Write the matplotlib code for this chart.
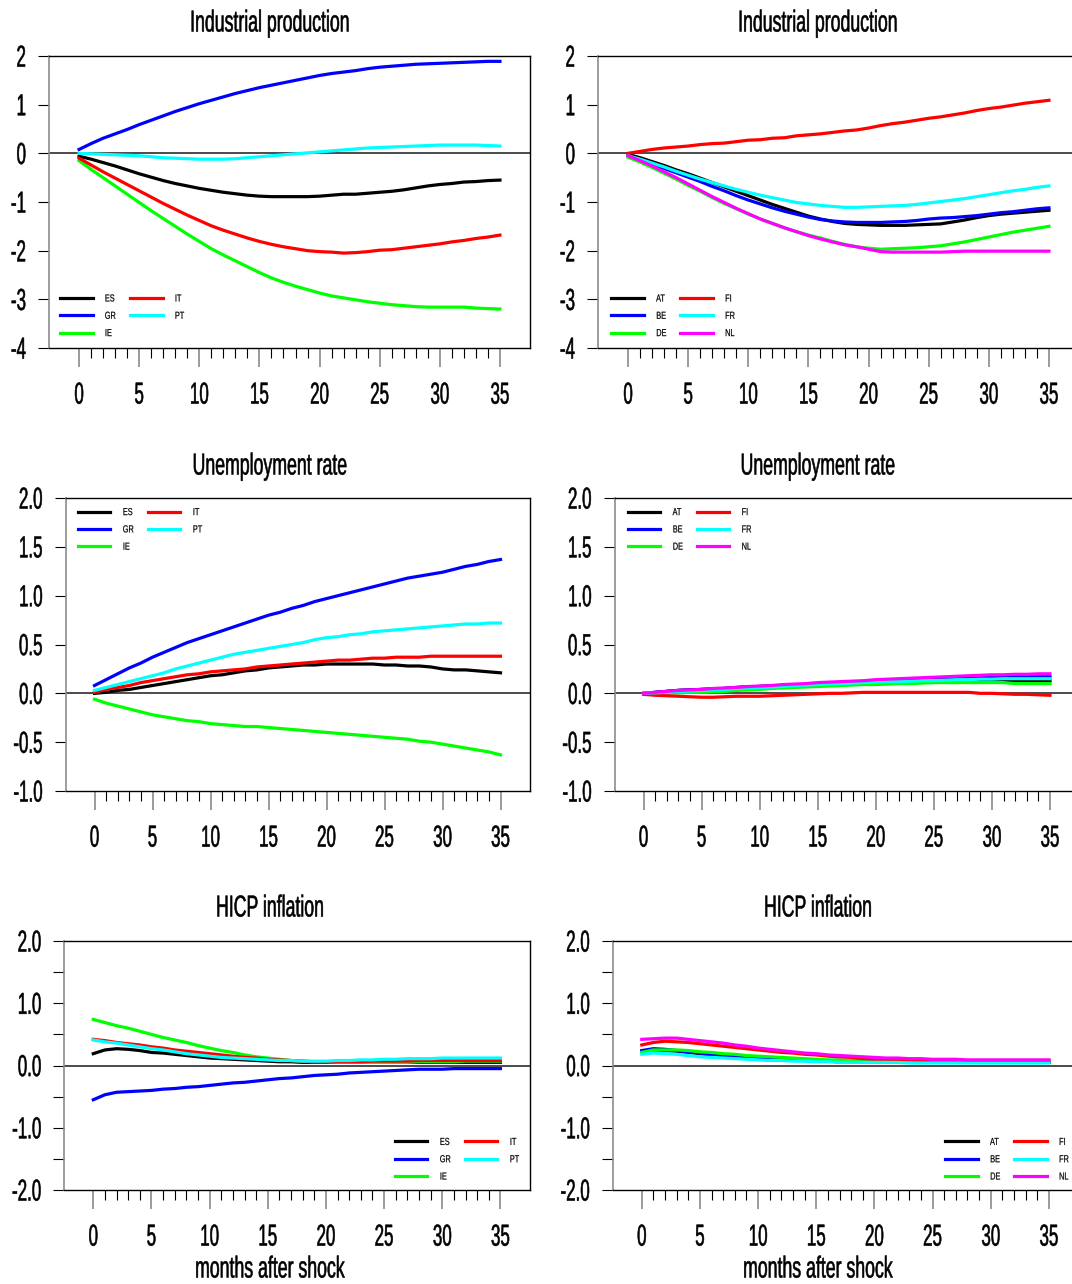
import numpy as np
import matplotlib
matplotlib.use("Agg")
import matplotlib.pyplot as plt
from matplotlib.patheffects import AbstractPathEffect
from matplotlib.transforms import Affine2D

plt.rcParams['font.family'] = ['Liberation Sans', 'DejaVu Sans']
plt.rcParams['axes.unicode_minus'] = False

months = np.arange(36)

# impulse responses, periphery (left column) and core (right column)
ip_es = [-0.06, -0.12, -0.19, -0.26, -0.34, -0.42, -0.49, -0.56, -0.62, -0.67, -0.72, -0.76, -0.80, -0.83, -0.86, -0.88, -0.89, -0.89,
         -0.89, -0.89, -0.88, -0.86, -0.84, -0.84, -0.82, -0.80, -0.78, -0.75, -0.71, -0.67, -0.64, -0.62, -0.59, -0.58, -0.56, -0.55]
ip_gr = [0.08, 0.20, 0.31, 0.40, 0.49, 0.59, 0.68, 0.77, 0.86, 0.94, 1.02, 1.09, 1.16, 1.23, 1.29, 1.35, 1.40, 1.45,
         1.50, 1.55, 1.60, 1.64, 1.67, 1.70, 1.74, 1.77, 1.79, 1.81, 1.83, 1.84, 1.85, 1.86, 1.87, 1.88, 1.89, 1.89]
ip_ie = [-0.15, -0.33, -0.50, -0.67, -0.84, -1.01, -1.18, -1.34, -1.50, -1.66, -1.81, -1.96, -2.09, -2.21, -2.33, -2.45, -2.56, -2.65,
         -2.73, -2.80, -2.87, -2.93, -2.97, -3.01, -3.05, -3.08, -3.11, -3.13, -3.15, -3.16, -3.16, -3.16, -3.16, -3.18, -3.19, -3.20]
ip_it = [-0.10, -0.24, -0.38, -0.51, -0.64, -0.77, -0.90, -1.03, -1.15, -1.27, -1.38, -1.49, -1.58, -1.66, -1.74, -1.81, -1.87, -1.92,
         -1.96, -2.00, -2.02, -2.03, -2.05, -2.04, -2.02, -1.99, -1.98, -1.95, -1.92, -1.89, -1.86, -1.82, -1.79, -1.75, -1.72, -1.68]
ip_pt = [0.00, -0.01, -0.02, -0.03, -0.04, -0.05, -0.07, -0.09, -0.10, -0.11, -0.12, -0.12, -0.12, -0.11, -0.09, -0.07, -0.05, -0.03,
         -0.01, 0.01, 0.03, 0.05, 0.07, 0.09, 0.11, 0.12, 0.13, 0.14, 0.15, 0.16, 0.17, 0.17, 0.17, 0.17, 0.16, 0.15]

ip_at = [-0.02, -0.09, -0.17, -0.25, -0.34, -0.42, -0.51, -0.60, -0.69, -0.78, -0.87, -0.96, -1.05, -1.13, -1.21, -1.29, -1.35, -1.40,
         -1.44, -1.46, -1.47, -1.48, -1.48, -1.48, -1.47, -1.46, -1.45, -1.41, -1.37, -1.32, -1.28, -1.25, -1.23, -1.21, -1.19, -1.17]
ip_be = [-0.05, -0.13, -0.22, -0.31, -0.40, -0.49, -0.58, -0.68, -0.77, -0.87, -0.96, -1.04, -1.12, -1.19, -1.25, -1.31, -1.36, -1.39,
         -1.41, -1.42, -1.42, -1.42, -1.41, -1.40, -1.38, -1.35, -1.33, -1.32, -1.30, -1.28, -1.25, -1.22, -1.20, -1.17, -1.14, -1.12]
ip_de = [-0.08, -0.18, -0.29, -0.41, -0.53, -0.66, -0.78, -0.91, -1.03, -1.14, -1.25, -1.35, -1.44, -1.53, -1.61, -1.68, -1.74, -1.81,
         -1.87, -1.92, -1.95, -1.97, -1.96, -1.95, -1.94, -1.92, -1.90, -1.86, -1.82, -1.77, -1.72, -1.67, -1.62, -1.58, -1.54, -1.50]
ip_fi = [0.00, 0.04, 0.08, 0.11, 0.13, 0.15, 0.18, 0.20, 0.21, 0.24, 0.27, 0.28, 0.31, 0.32, 0.36, 0.38, 0.40, 0.43,
         0.46, 0.48, 0.52, 0.57, 0.61, 0.64, 0.68, 0.72, 0.75, 0.79, 0.83, 0.88, 0.92, 0.95, 0.99, 1.03, 1.06, 1.09]
ip_fr = [-0.05, -0.12, -0.20, -0.28, -0.37, -0.45, -0.53, -0.60, -0.67, -0.74, -0.80, -0.86, -0.91, -0.96, -1.01, -1.04, -1.07, -1.09,
         -1.11, -1.11, -1.10, -1.09, -1.08, -1.07, -1.05, -1.02, -0.99, -0.96, -0.93, -0.89, -0.85, -0.81, -0.77, -0.74, -0.70, -0.67]
ip_nl = [-0.05, -0.15, -0.26, -0.38, -0.50, -0.63, -0.76, -0.89, -1.01, -1.13, -1.24, -1.35, -1.44, -1.53, -1.61, -1.69, -1.76, -1.82,
         -1.88, -1.92, -1.97, -2.02, -2.03, -2.03, -2.03, -2.03, -2.03, -2.02, -2.01, -2.01, -2.01, -2.01, -2.01, -2.01, -2.01, -2.01]

ur_es = [0.00, 0.01, 0.03, 0.04, 0.06, 0.08, 0.10, 0.12, 0.14, 0.16, 0.18, 0.19, 0.21, 0.23, 0.24, 0.26, 0.27, 0.28,
         0.29, 0.29, 0.30, 0.30, 0.30, 0.30, 0.30, 0.29, 0.29, 0.28, 0.28, 0.27, 0.25, 0.24, 0.24, 0.23, 0.22, 0.21]
ur_gr = [0.08, 0.14, 0.20, 0.26, 0.31, 0.37, 0.42, 0.47, 0.52, 0.56, 0.60, 0.64, 0.68, 0.72, 0.76, 0.80, 0.83, 0.87,
         0.90, 0.94, 0.97, 1.00, 1.03, 1.06, 1.09, 1.12, 1.15, 1.18, 1.20, 1.22, 1.24, 1.27, 1.30, 1.32, 1.35, 1.37]
ur_ie = [-0.06, -0.10, -0.13, -0.16, -0.19, -0.22, -0.24, -0.26, -0.28, -0.29, -0.31, -0.32, -0.33, -0.34, -0.34, -0.35, -0.36, -0.37,
         -0.38, -0.39, -0.40, -0.41, -0.42, -0.43, -0.44, -0.45, -0.46, -0.47, -0.49, -0.50, -0.52, -0.54, -0.56, -0.58, -0.60, -0.63]
ur_it = [0.01, 0.04, 0.06, 0.08, 0.11, 0.13, 0.15, 0.17, 0.19, 0.20, 0.22, 0.23, 0.24, 0.25, 0.27, 0.28, 0.29, 0.30,
         0.31, 0.32, 0.33, 0.34, 0.34, 0.35, 0.36, 0.36, 0.37, 0.37, 0.37, 0.38, 0.38, 0.38, 0.38, 0.38, 0.38, 0.38]
ur_pt = [0.03, 0.06, 0.09, 0.12, 0.15, 0.18, 0.21, 0.25, 0.28, 0.31, 0.34, 0.37, 0.40, 0.42, 0.44, 0.46, 0.48, 0.50,
         0.52, 0.55, 0.57, 0.58, 0.60, 0.61, 0.63, 0.64, 0.65, 0.66, 0.67, 0.68, 0.69, 0.70, 0.71, 0.71, 0.72, 0.72]

ur_at = [0.00, 0.01, 0.02, 0.03, 0.035, 0.04, 0.045, 0.05, 0.06, 0.065, 0.07, 0.075, 0.08, 0.085, 0.09, 0.095, 0.10, 0.105,
         0.11, 0.115, 0.12, 0.12, 0.125, 0.125, 0.13, 0.13, 0.13, 0.13, 0.13, 0.13, 0.13, 0.13, 0.13, 0.13, 0.13, 0.13]
ur_be = [0.00, 0.01, 0.02, 0.03, 0.035, 0.04, 0.045, 0.05, 0.06, 0.065, 0.07, 0.075, 0.08, 0.085, 0.09, 0.10, 0.105, 0.11,
         0.115, 0.12, 0.125, 0.13, 0.135, 0.14, 0.145, 0.15, 0.15, 0.155, 0.16, 0.16, 0.165, 0.165, 0.17, 0.17, 0.17, 0.17]
ur_de = [0.00, 0.00, 0.00, 0.005, 0.01, 0.01, 0.015, 0.02, 0.03, 0.035, 0.04, 0.05, 0.055, 0.06, 0.065, 0.07, 0.075, 0.08,
         0.085, 0.09, 0.09, 0.095, 0.10, 0.10, 0.105, 0.11, 0.11, 0.11, 0.11, 0.11, 0.11, 0.11, 0.10, 0.10, 0.10, 0.10]
ur_fi = [-0.01, -0.02, -0.025, -0.03, -0.035, -0.04, -0.04, -0.035, -0.03, -0.03, -0.03, -0.025, -0.02, -0.015, -0.01, -0.005, 0.00, 0.00,
         0.005, 0.01, 0.01, 0.01, 0.01, 0.01, 0.01, 0.01, 0.01, 0.01, 0.01, 0.00, 0.00, -0.005, -0.01, -0.01, -0.015, -0.02]
ur_fr = [0.00, 0.005, 0.01, 0.02, 0.025, 0.03, 0.035, 0.04, 0.05, 0.055, 0.06, 0.065, 0.07, 0.08, 0.085, 0.09, 0.095, 0.10,
         0.105, 0.11, 0.115, 0.12, 0.12, 0.125, 0.13, 0.13, 0.135, 0.14, 0.14, 0.145, 0.145, 0.15, 0.15, 0.15, 0.15, 0.15]
ur_nl = [0.00, 0.01, 0.02, 0.03, 0.035, 0.04, 0.05, 0.055, 0.06, 0.07, 0.075, 0.08, 0.09, 0.095, 0.10, 0.11, 0.115, 0.12,
         0.125, 0.13, 0.14, 0.145, 0.15, 0.155, 0.16, 0.165, 0.17, 0.175, 0.18, 0.185, 0.19, 0.19, 0.195, 0.195, 0.20, 0.20]

hi_es = [0.19, 0.25, 0.27, 0.26, 0.24, 0.21, 0.20, 0.18, 0.16, 0.14, 0.12, 0.11, 0.10, 0.09, 0.08, 0.07, 0.06, 0.06,
         0.05, 0.05, 0.05, 0.05, 0.05, 0.05, 0.05, 0.05, 0.05, 0.05, 0.05, 0.05, 0.05, 0.05, 0.05, 0.05, 0.05, 0.05]
hi_gr = [-0.55, -0.47, -0.43, -0.42, -0.41, -0.40, -0.38, -0.37, -0.35, -0.34, -0.32, -0.30, -0.28, -0.27, -0.25, -0.23, -0.21, -0.20,
         -0.18, -0.16, -0.15, -0.14, -0.12, -0.11, -0.10, -0.09, -0.08, -0.07, -0.06, -0.06, -0.06, -0.05, -0.05, -0.05, -0.05, -0.05]
hi_ie = [0.74, 0.69, 0.64, 0.60, 0.55, 0.50, 0.45, 0.41, 0.37, 0.32, 0.28, 0.24, 0.21, 0.17, 0.14, 0.12, 0.10, 0.08,
         0.07, 0.06, 0.06, 0.05, 0.05, 0.05, 0.05, 0.05, 0.05, 0.05, 0.06, 0.06, 0.06, 0.06, 0.07, 0.07, 0.07, 0.07]
hi_it = [0.42, 0.40, 0.37, 0.35, 0.33, 0.30, 0.28, 0.25, 0.23, 0.21, 0.19, 0.17, 0.15, 0.13, 0.12, 0.10, 0.09, 0.08,
         0.07, 0.06, 0.06, 0.06, 0.06, 0.06, 0.07, 0.07, 0.07, 0.07, 0.08, 0.08, 0.08, 0.08, 0.08, 0.08, 0.08, 0.08]
hi_pt = [0.41, 0.38, 0.36, 0.33, 0.30, 0.27, 0.25, 0.22, 0.19, 0.17, 0.15, 0.13, 0.12, 0.11, 0.10, 0.09, 0.08, 0.08,
         0.07, 0.07, 0.07, 0.08, 0.08, 0.09, 0.09, 0.10, 0.10, 0.11, 0.11, 0.11, 0.12, 0.12, 0.12, 0.12, 0.12, 0.12]

hi_at = [0.22, 0.25, 0.24, 0.23, 0.21, 0.19, 0.17, 0.16, 0.14, 0.13, 0.11, 0.10, 0.09, 0.09, 0.08, 0.07, 0.07, 0.06,
         0.06, 0.06, 0.05, 0.05, 0.05, 0.05, 0.05, 0.05, 0.05, 0.05, 0.05, 0.05, 0.05, 0.05, 0.05, 0.05, 0.05, 0.05]
hi_be = [0.24, 0.27, 0.26, 0.24, 0.22, 0.20, 0.18, 0.16, 0.15, 0.13, 0.12, 0.11, 0.10, 0.09, 0.08, 0.07, 0.07, 0.06,
         0.06, 0.06, 0.05, 0.05, 0.05, 0.05, 0.05, 0.05, 0.05, 0.05, 0.05, 0.05, 0.05, 0.05, 0.05, 0.05, 0.05, 0.05]
hi_de = [0.21, 0.25, 0.25, 0.25, 0.24, 0.22, 0.21, 0.19, 0.18, 0.16, 0.15, 0.14, 0.13, 0.12, 0.11, 0.10, 0.09, 0.09,
         0.08, 0.08, 0.07, 0.07, 0.07, 0.07, 0.06, 0.06, 0.06, 0.06, 0.06, 0.06, 0.06, 0.06, 0.06, 0.06, 0.06, 0.06]
hi_fi = [0.33, 0.37, 0.39, 0.38, 0.37, 0.35, 0.33, 0.31, 0.29, 0.27, 0.25, 0.23, 0.21, 0.20, 0.18, 0.17, 0.15, 0.14,
         0.13, 0.11, 0.10, 0.10, 0.09, 0.09, 0.08, 0.08, 0.08, 0.08, 0.08, 0.08, 0.08, 0.08, 0.08, 0.08, 0.08, 0.08]
hi_fr = [0.18, 0.20, 0.19, 0.18, 0.16, 0.14, 0.13, 0.12, 0.11, 0.10, 0.09, 0.08, 0.08, 0.07, 0.07, 0.06, 0.06, 0.05,
         0.05, 0.05, 0.05, 0.05, 0.05, 0.04, 0.04, 0.04, 0.04, 0.04, 0.04, 0.04, 0.04, 0.04, 0.04, 0.04, 0.04, 0.04]
hi_nl = [0.42, 0.43, 0.44, 0.44, 0.42, 0.40, 0.38, 0.36, 0.33, 0.31, 0.28, 0.26, 0.24, 0.22, 0.20, 0.19, 0.17, 0.16,
         0.15, 0.14, 0.13, 0.12, 0.12, 0.11, 0.11, 0.10, 0.10, 0.10, 0.09, 0.09, 0.09, 0.09, 0.09, 0.09, 0.09, 0.09]

periphery = ['ES', 'GR', 'IE', 'IT', 'PT']
core = ['AT', 'BE', 'DE', 'FI', 'FR', 'NL']
colors = ['#000000', '#0000ff', '#00ff00', '#ff0000', '#00ffff', '#ff00ff']


class Reshape(AbstractPathEffect):
    """Scale glyph outlines about an anchor of the string (condensed/tall lettering),
    optionally outlining them a little to keep the stems solid."""

    def __init__(self, sx=1.0, sy=1.0, ax='center', ay='center', lw=0.0):
        super().__init__()
        self.sx, self.sy = sx, sy
        self.ax, self.ay = ax, ay
        self.lw = lw

    def draw_path(self, renderer, gc, tpath, affine, rgbFace=None):
        ext = tpath.get_extents()
        x0 = {'left': ext.x0, 'center': 0.5 * (ext.x0 + ext.x1), 'right': ext.x1}[self.ax]
        y0 = 0.0 if self.ay == 'baseline' else 0.5 * (ext.y0 + ext.y1)
        t = Affine2D().translate(-x0, -y0).scale(self.sx, self.sy).translate(x0, y0)
        gc0 = renderer.new_gc()
        gc0.copy_properties(gc)
        gc0.set_snap(False)
        if self.lw and rgbFace is not None:
            gc0.set_linewidth(self.lw)
            gc0.set_foreground(rgbFace)
        renderer.draw_path(gc0, tpath, t + affine, rgbFace)
        gc0.restore()


W, H = 1072, 1284
fig = plt.figure(figsize=(W / 100, H / 100), dpi=100)

TICK_FS, TICK_SY = 12.2, 1.786      # tall, narrow numerals
HEAD_FS, HEAD_SY = 12.75, 1.709     # titles and x captions


def px_axes(l, r, t, b):
    return fig.add_axes([l / W, 1 - b / H, (r - l) / W, (b - t) / H])


panels = [
    # (left, right, top, bottom), ylim, yticks, ytick labels, minor yticks, series, names, legend
    ((49, 530, 56, 348), (-4, 2), [-4, -3, -2, -1, 0, 1, 2], ['-4', '-3', '-2', '-1', '0', '1', '2'], [],
     [ip_es, ip_gr, ip_ie, ip_it, ip_pt], periphery, ('lower left', (0.023, 0.034))),
    ((598, 1079, 56, 348), (-4, 2), [-4, -3, -2, -1, 0, 1, 2], ['-4', '-3', '-2', '-1', '0', '1', '2'], [],
     [ip_at, ip_be, ip_de, ip_fi, ip_fr, ip_nl], core, ('lower left', (0.028, 0.034))),
    ((65.5, 529.5, 498, 791), (-1, 2), [-1, -0.5, 0, 0.5, 1, 1.5, 2], ['-1.0', '-0.5', '0.0', '0.5', '1.0', '1.5', '2.0'], [],
     [ur_es, ur_gr, ur_ie, ur_it, ur_pt], periphery, ('upper left', (0.027, 0.969))),
    ((614.5, 1079, 498, 791), (-1, 2), [-1, -0.5, 0, 0.5, 1, 1.5, 2], ['-1.0', '-0.5', '0.0', '0.5', '1.0', '1.5', '2.0'], [],
     [ur_at, ur_be, ur_de, ur_fi, ur_fr, ur_nl], core, ('upper left', (0.029, 0.969))),
    ((64.2, 529.5, 941, 1190), (-2, 2), [-2, -1, 0, 1, 2], ['-2.0', '-1.0', '0.0', '1.0', '2.0'], [-1.5, -0.5, 0.5, 1.5],
     [hi_es, hi_gr, hi_ie, hi_it, hi_pt], periphery, ('lower left', (0.711, 0.034))),
    ((612.7, 1078, 941, 1190), (-2, 2), [-2, -1, 0, 1, 2], ['-2.0', '-1.0', '0.0', '1.0', '2.0'], [-1.5, -0.5, 0.5, 1.5],
     [hi_at, hi_be, hi_de, hi_fi, hi_fr, hi_nl], core, ('lower left', (0.715, 0.034))),
]

for (l, r, t, b), ylim, yt, ylab, yminor, series, names, (loc, anchor) in panels:
    ax = px_axes(l, r, t, b)
    ax.axhline(0, color='#1a1a1a', lw=1.1, zorder=1)
    for vals, name, c in zip(series, names, colors):
        ax.plot(months, vals, color=c, lw=2.3, label=name, zorder=2)
    ax.set_xlim(-2.5, 37.5)
    ax.set_ylim(*ylim)

    for side in ['top', 'bottom', 'right']:
        ax.spines[side].set_color('k')
        ax.spines[side].set_linewidth(1.0)
    ax.spines['left'].set_color('#8c8c8c')
    ax.spines['left'].set_linewidth(1.2)

    ax.set_yticks(yt, ylab)
    ax.set_yticks(yminor, minor=True)
    ax.set_xticks(range(0, 36, 5), [str(v) for v in range(0, 36, 5)])
    ax.set_xticks(range(36), minor=True)
    ax.tick_params(axis='y', which='both', direction='out', length=8, width=0.8, color='k',
                   pad=8.6, labelsize=TICK_FS)
    ax.tick_params(axis='x', which='major', direction='out', length=13.5, width=1.1, color='#808080',
                   pad=14.6, labelsize=TICK_FS)
    ax.tick_params(axis='x', which='minor', direction='out', length=7.2, width=0.8, color='k')
    for lab in ax.get_yticklabels() + ax.get_xticklabels():
        lab.set_path_effects([Reshape(sy=TICK_SY, lw=0.4)])

    leg = ax.legend(loc=loc, bbox_to_anchor=anchor, ncol=2, frameon=False, fontsize=7.3,
                    handlelength=3.2, handletextpad=1.2, columnspacing=1.0, labelspacing=0.72,
                    borderpad=0, borderaxespad=0)
    for line in leg.get_lines():
        line.set_linewidth(2.3)
    for txt in leg.get_texts():
        txt.set_path_effects([Reshape(sx=0.72, ax='left', lw=0.15)])

# panel titles and x-axis captions (baseline positions)
for x in (270, 818):
    for y, s in ((31.5, 'Industrial production'), (474.5, 'Unemployment rate'), (916.5, 'HICP inflation'),
                 (1277.5, 'months after shock')):
        txt = fig.text(x / W, 1 - y / H, s, ha='center', va='baseline', fontsize=HEAD_FS)
        txt.set_path_effects([Reshape(sy=HEAD_SY, ay='baseline', lw=0.4)])

fig.savefig('out.png', dpi=100)
